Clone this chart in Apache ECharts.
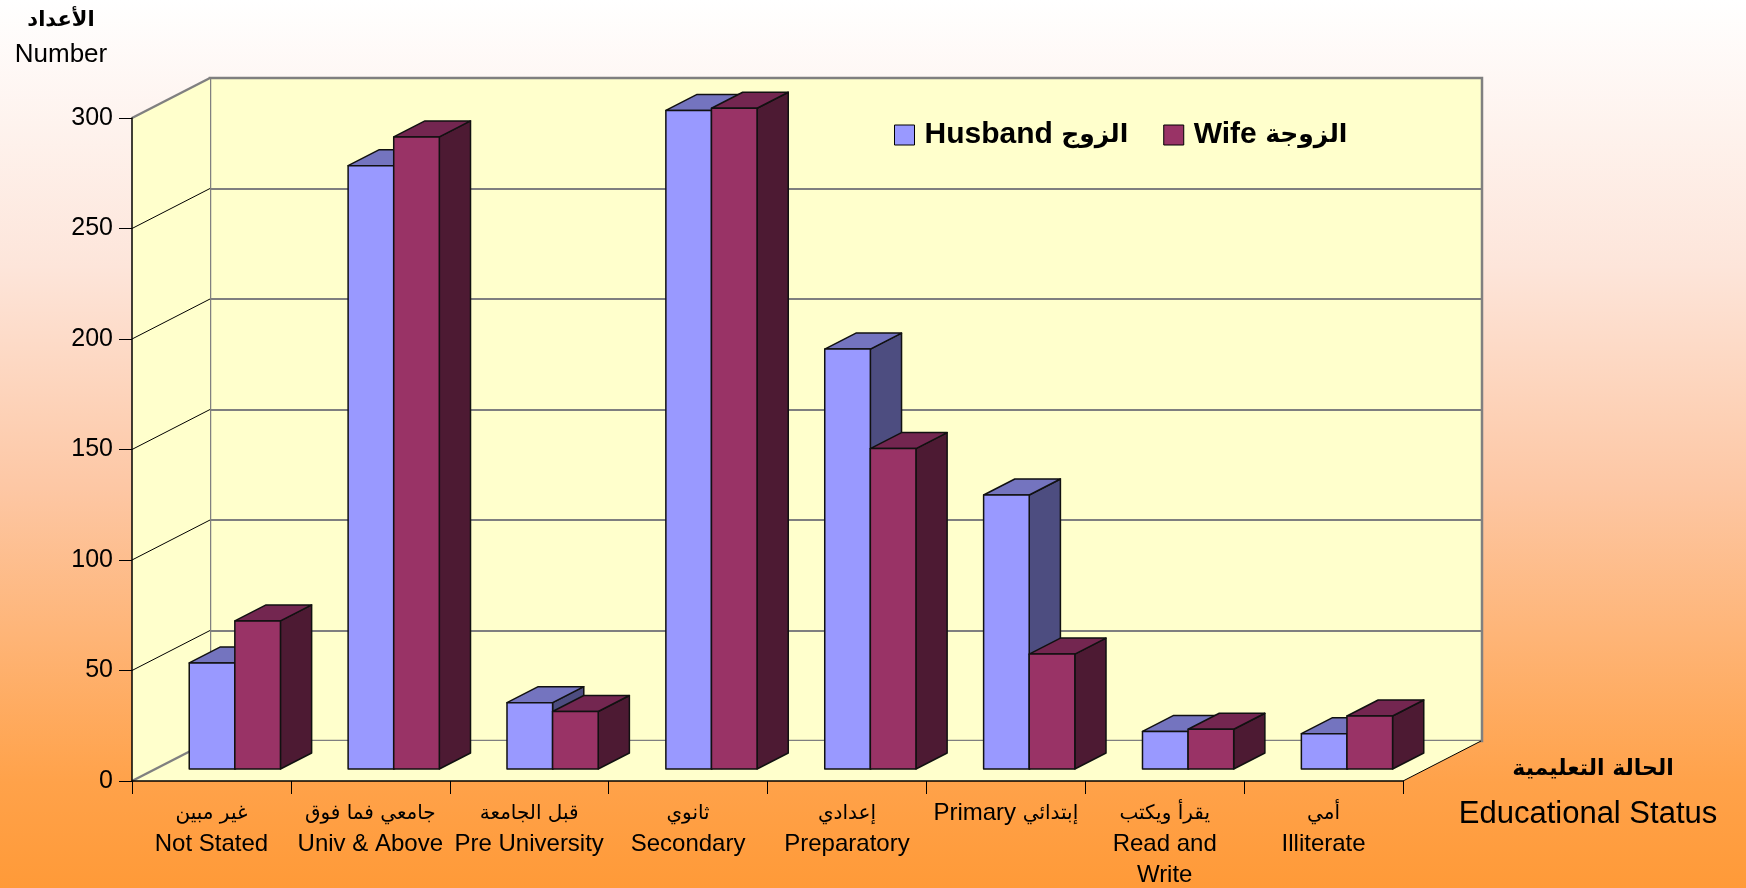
<!DOCTYPE html>
<html>
<head>
<meta charset="utf-8">
<script src="https://cdn.jsdelivr.net/npm/echarts@6/dist/echarts.min.js"></script>
<style>
  html, body { margin: 0; padding: 0; }
  body { background: linear-gradient(to bottom, #ffffff 0%, #fde5da 30%, #fdc7a4 55%, #ffa24a 88%, #ff9a38 100%); }
  #main { width: 1746px; height: 888px; }
</style>
</head>
<body>
<div id="main"></div>
<script>
// categories (arabic line + english line)
var categories = [
  'غير مبين\nNot Stated',
  'جامعي فما فوق\nUniv & Above',
  'قبل الجامعة\nPre University',
  'ثانوي\nSecondary',
  'إعدادي\nPreparatory',
  'Primary إبتدائي',
  'يقرأ ويكتب\nRead and\nWrite',
  'أمي\nIlliterate'
];
var husband = [48, 273, 30, 298, 190, 124, 17, 16];
var wife = [67, 286, 26, 299, 145, 52, 18, 24];
var yTicks = [0, 50, 100, 150, 200, 250, 300];

// 3D depth of the box (pixels) and bar placement inside it
var DX = 78, DY = -40;
var FRONT = 0.3, DEPTH = 0.4;
var BAR_RATIO = 0.287;

var chart = echarts.init(document.getElementById('main'));

// split a text line into arabic / latin runs -> rich text
function toRich(text) {
  return text.split('\n').map(function (line) {
    var runs = line.match(/[\u0600-\u06FF][\u0600-\u06FF\s]*|[^\u0600-\u06FF]+/g) || [line];
    return runs.map(function (r) {
      return (/[\u0600-\u06FF]/.test(r) ? '{ar|' : '{en|') + r + '}';
    }).join('');
  }).join('\n');
}

function barRenderer(side, front, topC, sideC) {
  return function (params, api) {
    var i = api.value(0), v = api.value(1);
    var base = api.coord([i, 0]);
    var top = api.coord([i, v]);
    var w = api.size([1, 0])[0] * BAR_RATIO;
    var cx = base[0] + DX * FRONT;
    var x1 = side === 0 ? cx - w : cx;
    var x2 = x1 + w;
    var yb = base[1] + DY * FRONT;
    var yt = top[1] + DY * FRONT;
    var dx = DX * DEPTH, dy = DY * DEPTH;
    var st = { stroke: '#111', lineWidth: 1.5, lineJoin: 'round' };
    return {
      type: 'group',
      children: [
        { type: 'polygon', shape: { points: [[x2, yt], [x2 + dx, yt + dy], [x2 + dx, yb + dy], [x2, yb]] },
          style: Object.assign({ fill: sideC }, st) },
        { type: 'polygon', shape: { points: [[x1, yt], [x2, yt], [x2 + dx, yt + dy], [x1 + dx, yt + dy]] },
          style: Object.assign({ fill: topC }, st) },
        { type: 'rect', shape: { x: x1, y: yt, width: w, height: yb - yt },
          style: Object.assign({ fill: front }, st) }
      ]
    };
  };
}

// left wall + floor of the box
function frameRenderer(params, api) {
  var cs = params.coordSys;
  var x = cs.x, yTop = cs.y, yBot = cs.y + cs.height, W = cs.width;
  var children = [
    { type: 'polygon', shape: { points: [[x, yTop], [x + DX, yTop + DY], [x + DX, yBot + DY], [x, yBot]] },
      style: { fill: '#ffffcc' } },
    { type: 'polygon', shape: { points: [[x, yBot], [x + DX, yBot + DY], [x + W + DX, yBot + DY], [x + W, yBot]] },
      style: { fill: '#ffffcc' } },
    { type: 'line', shape: { x1: x + W, y1: yBot, x2: x + W + DX, y2: yBot + DY },
      style: { stroke: '#000', lineWidth: 1 } }
  ];
  yTicks.forEach(function (t) {
    var y = api.coord([0, t])[1];
    var edge = (t === yTicks[0] || t === yTicks[yTicks.length - 1]);
    children.push({
      type: 'line', shape: { x1: x, y1: y, x2: x + DX, y2: y + DY },
      style: { stroke: edge ? '#808080' : '#000', lineWidth: edge ? 2.5 : 1 }
    });
  });
  return { type: 'group', children: children };
}

var option = {
  animation: false,
  backgroundColor: 'transparent',
  textStyle: { fontFamily: 'Liberation Sans, Arial, DejaVu Sans, sans-serif' },
  legend: {
    left: 894, top: 120, padding: 0,
    icon: 'rect',
    itemWidth: 20, itemHeight: 20,
    itemGap: 35,
    itemStyle: { borderColor: '#000', borderWidth: 1 },
    formatter: function (name) { return toRich(name); },
    textStyle: {
      color: '#000',
      rich: {
        en: { fontSize: 30, fontWeight: 'bold', color: '#000', padding: [0, 0, 0, 5], fontFamily: 'Liberation Sans' },
        ar: { fontSize: 25, fontWeight: 'bold', color: '#000', fontFamily: 'DejaVu Sans' }
      }
    },
    data: ['Husband الزوج', 'Wife الزوجة']
  },
  grid: [
    { left: 132, right: 343, top: 118, bottom: 107, outerBoundsMode: 'none', containLabel: false },
    { left: 210, right: 264, top: 78, bottom: 147, outerBoundsMode: 'none', containLabel: false,
      show: true, backgroundColor: '#ffffcc', borderColor: '#808080', borderWidth: 2.5 }
  ],
  xAxis: [
    {
      type: 'category', gridIndex: 0, data: categories, z: 10,
      axisLine: { show: true, lineStyle: { color: '#000', width: 1.5 } },
      axisTick: { show: true, length: 13, lineStyle: { color: '#000', width: 1 } },
      axisLabel: {
        interval: 0, margin: 17, color: '#000', align: 'center',
        formatter: function (v) { return toRich(v); },
        rich: {
          en: { fontSize: 24, lineHeight: 31, color: '#000', fontFamily: 'Liberation Sans' },
          ar: { fontSize: 20, lineHeight: 31, color: '#000', fontFamily: 'DejaVu Sans' }
        }
      },
      splitLine: { show: false }
    },
    { type: 'category', gridIndex: 1, data: categories, show: false }
  ],
  yAxis: [
    {
      type: 'value', gridIndex: 0, min: 0, max: 300, interval: 50, z: 10,
      axisLine: { show: true, lineStyle: { color: '#000', width: 1.5 } },
      axisTick: { show: true, length: 13, lineStyle: { color: '#000', width: 1 } },
      axisLabel: { margin: 19, fontSize: 25, color: '#000' },
      splitLine: { show: false }
    },
    {
      type: 'value', gridIndex: 1, min: 0, max: 300, interval: 50,
      axisLine: { show: false }, axisTick: { show: false }, axisLabel: { show: false },
      splitLine: { show: true, lineStyle: { color: '#7f7f7f', width: 2 } }
    }
  ],
  graphic: [
    { type: 'text', x: 61, y: 21, style: { text: 'الأعداد', font: 'bold 21px DejaVu Sans', fill: '#000', align: 'center', verticalAlign: 'middle' } },
    { type: 'text', x: 61, y: 55, style: { text: 'Number', font: '26px Liberation Sans', fill: '#000', align: 'center', verticalAlign: 'middle' } },
    { type: 'text', x: 1593, y: 769, style: { text: 'الحالة التعليمية', font: 'bold 22px DejaVu Sans', fill: '#000', align: 'center', verticalAlign: 'middle' } },
    { type: 'text', x: 1588, y: 814, style: { text: 'Educational Status', font: '31px Liberation Sans', fill: '#000', align: 'center', verticalAlign: 'middle' } }
  ],
  series: [
    {
      type: 'custom', name: 'frame', xAxisIndex: 0, yAxisIndex: 0, z: 1, silent: true,
      renderItem: frameRenderer, data: [[0, 0]]
    },
    {
      type: 'custom', name: 'Husband الزوج', xAxisIndex: 0, yAxisIndex: 0, z: 3,
      itemStyle: { color: '#9999ff' },
      renderItem: barRenderer(0, '#9999ff', '#7474bf', '#4d4d80'),
      encode: { x: 0, y: 1 },
      data: husband.map(function (v, i) { return [i, v]; })
    },
    {
      type: 'custom', name: 'Wife الزوجة', xAxisIndex: 0, yAxisIndex: 0, z: 4,
      itemStyle: { color: '#993366' },
      renderItem: barRenderer(1, '#993366', '#732650', '#4d1a33'),
      encode: { x: 0, y: 1 },
      data: wife.map(function (v, i) { return [i, v]; })
    }
  ]
};

chart.setOption(option);
</script>
</body>
</html>
